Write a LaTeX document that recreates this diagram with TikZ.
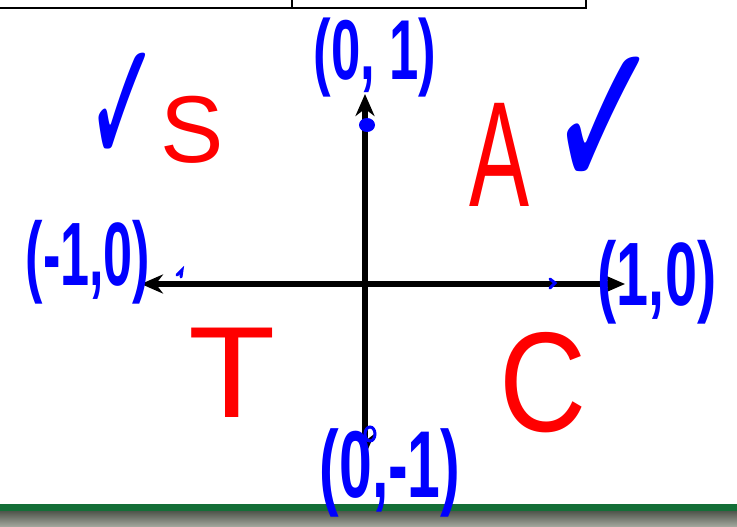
\documentclass[tikz,border=0pt]{standalone}
\usepackage{fontspec}
\setmainfont{Liberation Sans}
\newfontfamily\symfont{DejaVu Sans}
\usetikzlibrary{arrows.meta}
\definecolor{penblue}{RGB}{0,0,255}
\definecolor{penred}{RGB}{255,0,0}
\definecolor{bargreen}{RGB}{20,110,55}
\definecolor{bargrayA}{RGB}{80,86,76}
\definecolor{bargrayB}{RGB}{165,170,160}
\tikzset{
  axis/.style={line width=6pt, {Stealth[length=22pt,width=19pt]}-{Stealth[length=22pt,width=19pt]}},
  bluetxt/.style={text=penblue, inner sep=0pt},
  redtxt/.style={text=penred, inner sep=0pt},
  frameline/.style={line width=1.4pt, black},
  bluemark/.style={penblue, line width=3pt, line cap=round}
}
\begin{document}
\begin{tikzpicture}[x=1pt,y=-1pt]
\useasboundingbox (0,0) rectangle (737,527);
% top table fragment
\coordinate (tl) at (0,8);
\coordinate (tr) at (586,8);
\coordinate (trt) at (586,0);
\coordinate (dv) at (292,8);
\coordinate (dvt) at (292,0);
\draw[frameline] (tl) -- (tr) -- (trt);
\draw[frameline] (dv) -- (dvt);
% bottom bar
\fill[bargreen] (0,504) rectangle (737,511);
\shade[top color=bargrayA, bottom color=bargrayB] (0,511) rectangle (737,527);
% axes
\coordinate (L) at (141,284);
\coordinate (R) at (625,284);
\coordinate (T) at (365,94);
\coordinate (B) at (365,456);
\draw[axis] (L) -- (R);
\draw[axis] (T) -- (B);
% small pen marks on axes
\fill[penblue] (367,125) ellipse (8pt and 7pt);
\draw[bluemark] (370,434) ellipse (5pt and 7pt);
\draw[bluemark] (177,275) -- (182,270) -- (181,277);
\draw[bluemark] (550,279) -- (555,283) -- (550,288);
% coordinate labels
\node[bluetxt, font=\bfseries\fontsize{85}{85}\selectfont, xscale=0.62] (top) at (375,58) {(0, 1)};
\node[bluetxt, font=\bfseries\fontsize{90}{90}\selectfont, xscale=0.58] (left) at (88,262) {(-1,0)};
\node[bluetxt, font=\bfseries\fontsize{90}{90}\selectfont, xscale=0.64] (right) at (657,282) {(1,0)};
\node[bluetxt, font=\bfseries\fontsize{95}{95}\selectfont, xscale=0.62] (bot) at (390,473) {(0,-1)};
% quadrant letters
\node[redtxt, font=\fontsize{95}{95}\selectfont] (S) at (192,130) {S};
\node[redtxt, font=\fontsize{150}{150}\selectfont, xscale=0.6] (A) at (500,155) {A};
\node[redtxt, font=\fontsize{130}{130}\selectfont, xscale=1.1] (Tq) at (232,373) {T};
\node[redtxt, font=\fontsize{142}{142}\selectfont, xscale=0.85] (C) at (543,383) {C};
% check marks
\node[bluetxt, font=\symfont\bfseries\fontsize{180}{180}\selectfont, xscale=0.5] (ck1) at (123,110) {✓};
\node[bluetxt, font=\symfont\bfseries\fontsize{215}{215}\selectfont, xscale=0.65] (ck2) at (605,125) {✓};
\end{tikzpicture}
\end{document}
